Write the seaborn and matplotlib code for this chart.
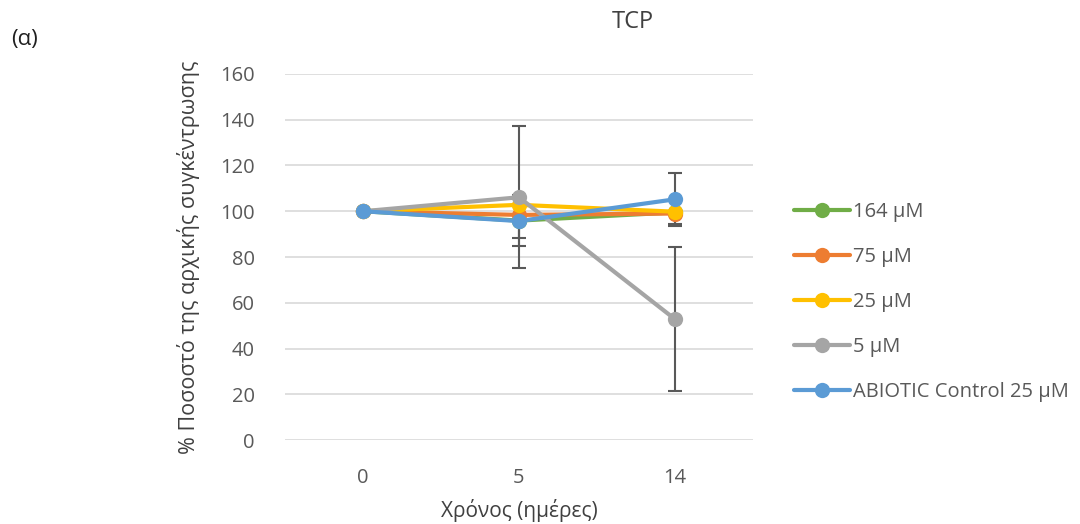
import pandas as pd
import matplotlib
matplotlib.use("Agg")
import matplotlib.pyplot as plt
import seaborn as sns

# data
days = ["0", "5", "14"]
series_names = ["164 μM", "75 μM", "25 μM", "5 μM", "ABIOTIC Control 25 μM"]
v_164 = [100, 95.9, 99.5]
v_75 = [100, 98.4, 99.0]
v_25 = [100, 102.8, 99.8]
v_5 = [100, 106.1, 52.9]
v_abiotic = [100, 95.7, 105.2]
e_164 = [0, 11.0, 0]
e_75 = [0, 0, 0]
e_25 = [0, 0, 5.5]
e_5 = [0, 31.0, 31.3]
e_abiotic = [0, 7.5, 11.7]
colors = ["#70AD47", "#ED7D31", "#FFC000", "#A5A5A5", "#5B9BD5"]

values = [v_164, v_75, v_25, v_5, v_abiotic]
errors = [e_164, e_75, e_25, e_5, e_abiotic]

rows = []
for name, vals, errs in zip(series_names, values, errors):
    for i, d in enumerate(days):
        rows.append({"series": name, "day": d, "pos": i, "value": vals[i], "err": errs[i]})
df = pd.DataFrame(rows)

sns.set_style("white")
plt.rcParams["font.family"] = ["Open Sans", "DejaVu Sans"]
text_col = "#595959"

fig = plt.figure(figsize=(10.8, 5.24), dpi=100)
ax = fig.add_axes([0.264, 0.160, 0.433, 0.699])

# error bars under the lines
for name, c in zip(series_names, colors):
    sub = df[df["series"] == name]
    sub = sub[sub["err"] > 0]
    if len(sub):
        ax.errorbar(sub["pos"], sub["value"], yerr=sub["err"], fmt="none",
                    ecolor="#595959", elinewidth=1.5, capsize=5, capthick=1.5, zorder=2)

sns.lineplot(data=df, x="pos", y="value", hue="series", hue_order=series_names,
             palette=colors, marker="o", markersize=11, markeredgewidth=0,
             linewidth=3, ax=ax, zorder=3, legend=True)

ax.set_xlim(-0.5, 2.5)
ax.set_ylim(0, 160)
ax.set_yticks(range(0, 161, 20))
ax.set_xticks(range(len(days)))
ax.set_xticklabels(days)
ax.grid(axis="y", color="#D9D9D9", linewidth=1.2)
ax.set_axisbelow(True)
for s in ax.spines.values():
    s.set_visible(False)
ax.tick_params(axis="both", length=0, labelsize=14.5, labelcolor=text_col)
ax.tick_params(axis="y", pad=22)
ax.tick_params(axis="x", pad=20)
ax.set_xlabel("Χρόνος (ημέρες)", fontsize=15, color="#404040", va="center")
ax.xaxis.set_label_coords(0.5, (440 - 510) / 366)
ax.set_ylabel("% Ποσοστό της αρχικής συγκέντρωσης", fontsize=15.5, color="#404040", labelpad=14)

handles, labels = ax.get_legend_handles_labels()
ax.legend(handles, labels, loc="center left", bbox_to_anchor=(1.07, 0.377),
          frameon=False, fontsize=14.5, handlelength=2.8, handletextpad=0.15,
          labelspacing=1.25, labelcolor=text_col, borderaxespad=0)

fig.text(633 / 1080, 1 - 22 / 524, "TCP", fontsize=17, color="#404040", ha="center", va="center")
fig.text(25 / 1080, 1 - 40 / 524, "(α)", fontsize=16, color="#202020", ha="center", va="center")

fig.savefig("out.png", dpi=100)
